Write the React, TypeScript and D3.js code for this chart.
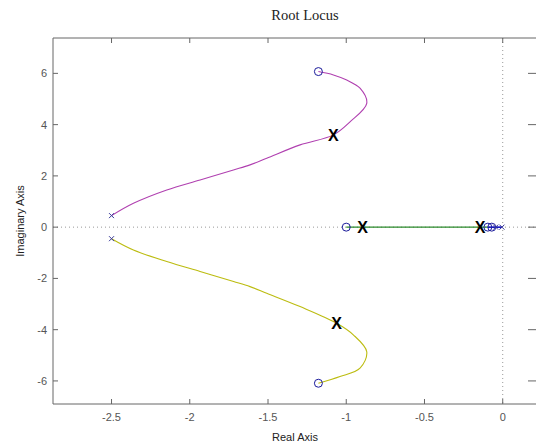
import React from "react";
import * as d3 from "d3";

const W = 536;
const H = 444;

const xTicks = [-2.5, -2, -1.5, -1, -0.5, 0];
const yTicks = [-6, -4, -2, 0, 2, 4, 6];

// upper complex branch (magenta)
const branchUpper: [number, number][] = [
  [-2.5, 0.45], [-2.36, 0.93], [-2.147, 1.45], [-1.934, 1.84], [-1.721, 2.23],
  [-1.615, 2.43], [-1.508, 2.69], [-1.295, 3.21], [-1.082, 3.6], [-0.976, 4.11],
  [-0.869, 4.83], [-0.912, 5.42], [-0.997, 5.74], [-1.082, 5.94], [-1.178, 6.07],
];
// lower complex branch (yellow)
const branchLower: [number, number][] = [
  [-2.5, -0.45], [-2.36, -0.89], [-2.147, -1.34], [-1.934, -1.73], [-1.72, -2.12],
  [-1.615, -2.32], [-1.508, -2.58], [-1.295, -3.1], [-1.061, -3.75], [-0.955, -4.2],
  [-0.869, -4.86], [-0.912, -5.5], [-1.04, -5.83], [-1.178, -6.09],
];
// real-axis branches
const branchReal: [number, number][] = [[-1.0, 0], [-0.095, 0]];
const branchNearZero: [number, number][] = [[-0.095, 0], [-0.005, 0]];

const poles: [number, number][] = [[-2.5, 0.45], [-2.5, -0.45], [-0.005, 0], [-0.045, 0]];
const zeros: [number, number][] = [[-1.178, 6.07], [-1.178, -6.09], [-1.0, 0], [-0.095, 0], [-0.07, 0]];
const closedLoop: [number, number][] = [[-1.082, 3.6], [-1.061, -3.75], [-0.895, 0], [-0.145, 0]];

const L = 53, R = 537, T = 38, B = 404;
const x = d3.scaleLinear().domain([-2.874, 0.219]).range([L, R]);
const y = d3.scaleLinear().domain([-6.9, 7.38]).range([B, T]);

const line = d3.line<[number, number]>().x(d => x(d[0])).y(d => y(d[1])).curve(d3.curveCatmullRom.alpha(0.5));

const axisColor = "#666";
const sans = "'Liberation Sans', Arial, sans-serif";

export default function App() {
  return (
    <svg width={W} height={H} style={{ position: "absolute", left: 0, top: 0, background: "#fff" }}>
      <rect x={0} y={0} width={W} height={H} fill="#fff" />
      <text x={305} y={20} textAnchor="middle" fontFamily="'Liberation Serif', 'Times New Roman', serif" fontSize={14.5} fill="#222">Root Locus</text>

      {/* zero lines */}
      <line x1={L} x2={R} y1={y(0)} y2={y(0)} stroke="#999" strokeDasharray="1,3" />
      <line x1={x(0)} x2={x(0)} y1={T} y2={B} stroke="#999" strokeDasharray="1,3" />

      {/* branches */}
      <path d={line(branchUpper) || ""} fill="none" stroke="#b040b0" strokeWidth={1.1} />
      <path d={line(branchLower) || ""} fill="none" stroke="#bcbc10" strokeWidth={1.1} />
      <path d={line(branchReal) || ""} fill="none" stroke="#2a8a2a" strokeWidth={1.1} />
      <path d={line(branchNearZero) || ""} fill="none" stroke="#0000c0" strokeWidth={1.5} />

      {/* zeros */}
      {zeros.map((d, i) => (
        <circle key={"z" + i} cx={x(d[0])} cy={y(d[1])} r={4} fill="none" stroke="#1a1a9a" strokeWidth={1} />
      ))}
      {/* poles */}
      {poles.map((d, i) => (
        <path key={"p" + i} d={`M${x(d[0]) - 2.5},${y(d[1]) - 2.5}L${x(d[0]) + 2.5},${y(d[1]) + 2.5}M${x(d[0]) - 2.5},${y(d[1]) + 2.5}L${x(d[0]) + 2.5},${y(d[1]) - 2.5}`} stroke="#3a3a9a" strokeWidth={1} />
      ))}
      {/* closed-loop markers */}
      {closedLoop.map((d, i) => (
        <text key={"c" + i} x={x(d[0])} y={y(d[1]) + 6} textAnchor="middle" fontFamily={sans} fontWeight="bold" fontSize={16} fill="#000">X</text>
      ))}

      {/* axes box */}
      <line x1={L} x2={R} y1={B} y2={B} stroke={axisColor} />
      <line x1={L} x2={R} y1={T} y2={T} stroke={axisColor} />
      <line x1={L} x2={L} y1={T} y2={B} stroke={axisColor} />

      {xTicks.map(t => (
        <g key={"xt" + t}>
          <line x1={x(t)} x2={x(t)} y1={B} y2={B - 5} stroke={axisColor} />
          <line x1={x(t)} x2={x(t)} y1={T} y2={T + 5} stroke={axisColor} />
          <text x={x(t)} y={421} textAnchor="middle" fontFamily={sans} fontSize={11} fill="#555">{t}</text>
        </g>
      ))}
      {yTicks.map(t => (
        <g key={"yt" + t}>
          <line x1={L} x2={L + 5} y1={y(t)} y2={y(t)} stroke={axisColor} />
          <line x1={R - 9} x2={R} y1={y(t)} y2={y(t)} stroke={axisColor} />
          <text x={47} y={y(t) + 4} textAnchor="end" fontFamily={sans} fontSize={11} fill="#555">{t}</text>
        </g>
      ))}

      <text x={295} y={441} textAnchor="middle" fontFamily={sans} fontSize={11} fill="#222">Real Axis</text>
      <text transform={`translate(24,221) rotate(-90)`} textAnchor="middle" fontFamily={sans} fontSize={11} fill="#222">Imaginary Axis</text>
    </svg>
  );
}
